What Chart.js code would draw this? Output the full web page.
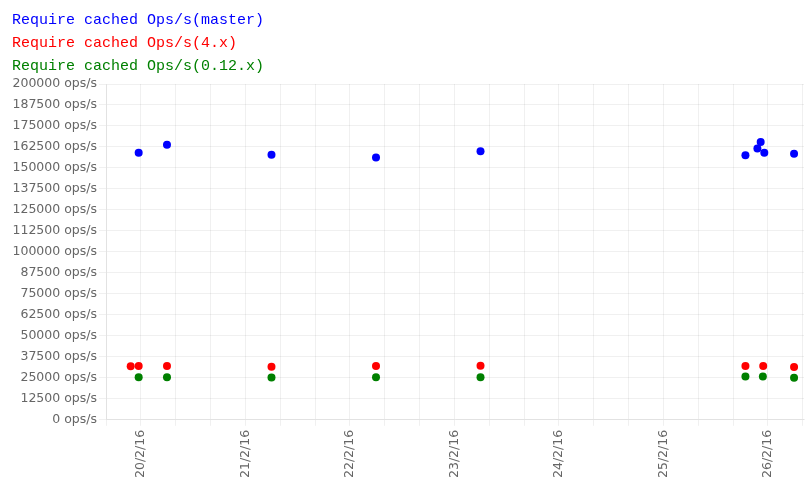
<!DOCTYPE html>
<html><head><meta charset="utf-8">
<style>
html,body{margin:0;padding:0;background:#fff}
#wrap{position:relative;width:808px;height:487px}
#c{display:block}
#legend{position:absolute;left:12px;top:9px;font:15px "Liberation Mono",monospace;line-height:23px;white-space:nowrap}
</style>
<script src="https://cdn.jsdelivr.net/npm/chart.js@4.4.0/dist/chart.umd.min.js"></script>
</head><body>
<div id="wrap"><canvas id="c" width="808" height="487"></canvas><div id="legend"></div></div>
<script>
// ---- data ----
const seriesLabels = ['Require cached Ops/s(master)', 'Require cached Ops/s(4.x)', 'Require cached Ops/s(0.12.x)'];
const seriesColors = ['#0000ff', '#ff0000', '#008000'];

const masterTimes = ['2016-02-19T23:30Z','2016-02-20T06:00Z','2016-02-21T06:00Z','2016-02-22T06:00Z','2016-02-23T06:00Z','2016-02-25T18:50Z','2016-02-25T21:35Z','2016-02-25T22:20Z','2016-02-25T23:10Z','2016-02-26T06:00Z'];
const masterValues = [159000, 163800, 157800, 156200, 160000, 157600, 161600, 165500, 159000, 158400];

const v4Times = ['2016-02-19T21:40Z','2016-02-19T23:30Z','2016-02-20T06:00Z','2016-02-21T06:00Z','2016-02-22T06:00Z','2016-02-23T06:00Z','2016-02-25T18:50Z','2016-02-25T22:55Z','2016-02-26T06:00Z'];
const v4Values = [31900, 32000, 32000, 31600, 32000, 32200, 32000, 32000, 31400];

const v012Times = ['2016-02-19T23:30Z','2016-02-20T06:00Z','2016-02-21T06:00Z','2016-02-22T06:00Z','2016-02-23T06:00Z','2016-02-25T18:50Z','2016-02-25T22:50Z','2016-02-26T06:00Z'];
const v012Values = [25400, 25400, 25200, 25400, 25400, 25800, 25800, 25000];

const xMin = '2016-02-19T16:00Z';
const xMax = '2016-02-26T08:17Z';
const yMax = 200000;
const yStep = 12500;
const xStepHours = 8;

// ---- build (x measured in hours since epoch) ----
const HOUR = 3600000;
const toHours = t => Date.parse(t) / HOUR;
const toPts = (ts, vs) => ts.map((t, i) => ({x: toHours(t), y: vs[i]}));
const allSeries = [[masterTimes, masterValues], [v4Times, v4Values], [v012Times, v012Values]];
const datasets = allSeries.map(([ts, vs], i) => ({
  label: seriesLabels[i],
  data: toPts(ts, vs),
  backgroundColor: seriesColors[i],
  borderColor: seriesColors[i],
  borderWidth: 0,
  pointRadius: 4,
  showLine: false
}));

const legend = document.getElementById('legend');
datasets.forEach(d => {
  const div = document.createElement('div');
  div.textContent = d.label;
  div.style.color = d.borderColor;
  legend.appendChild(div);
});

const tickFont = {family: 'DejaVu Sans', size: 12.5};
const gridColor = 'rgba(0,0,0,0.06)';

const dayLabel = v => {
  const d = new Date(Math.round(v * HOUR));
  if (d.getUTCHours() !== 0 || d.getUTCMinutes() !== 0) return '';
  return d.getUTCDate() + '/' + (d.getUTCMonth() + 1) + '/' + String(d.getUTCFullYear()).slice(2);
};

new Chart(document.getElementById('c'), {
  type: 'scatter',
  data: {datasets},
  options: {
    responsive: false,
    animation: false,
    layout: {padding: {top: 84, right: 0, left: 10.5, bottom: 5}},
    plugins: {legend: {display: false}, tooltip: {enabled: false}},
    scales: {
      x: {
        type: 'linear',
        min: toHours(xMin),
        max: toHours(xMax),
        grid: {color: gridColor, tickLength: 6},
        border: {color: gridColor},
        afterFit: s => { s.paddingRight = 0; s.paddingLeft = 0; },
        ticks: {
          stepSize: xStepHours,
          autoSkip: false,
          includeBounds: false,
          minRotation: 90,
          maxRotation: 90,
          padding: 4,
          color: '#666',
          font: tickFont,
          callback: dayLabel
        }
      },
      y: {
        min: 0,
        max: yMax,
        grid: {color: gridColor, tickLength: 7},
        border: {color: gridColor},
        ticks: {
          stepSize: yStep,
          padding: 2,
          color: '#666',
          font: tickFont,
          callback: v => v + ' ops/s'
        }
      }
    }
  }
});
</script>
</body></html>
